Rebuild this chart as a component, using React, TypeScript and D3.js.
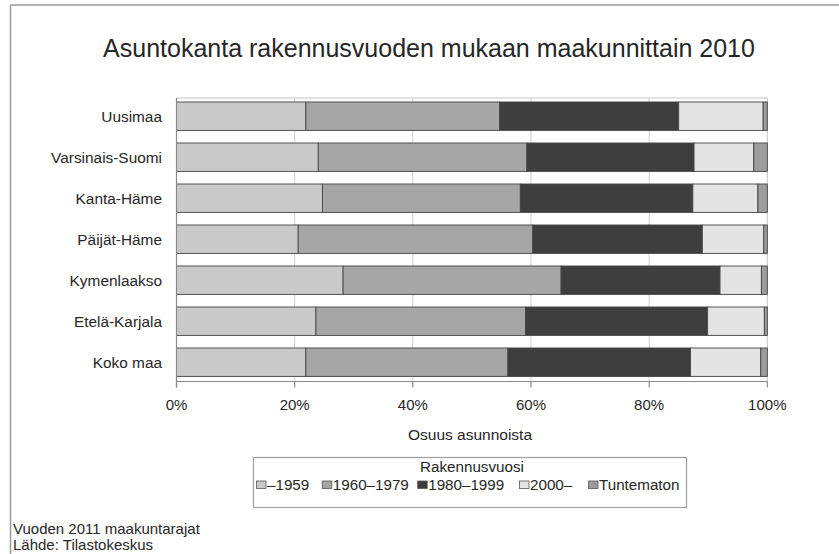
import React, { useEffect } from "react";
import * as d3 from "d3";

const categories = ["Uusimaa", "Varsinais-Suomi", "Kanta-Häme", "Päijät-Häme", "Kymenlaakso", "Etelä-Karjala", "Koko maa"];
const seriesNames = ["–1959", "1960–1979", "1980–1999", "2000–", "Tuntematon"];
const s1959 = [21.9, 24.0, 24.7, 20.6, 28.2, 23.6, 21.9];
const s1960_1979 = [32.8, 35.3, 33.5, 39.7, 36.9, 35.5, 34.2];
const s1980_1999 = [30.3, 28.3, 29.2, 28.7, 26.9, 30.8, 30.9];
const s2000 = [14.3, 10.1, 11.0, 10.4, 7.0, 9.6, 11.9];
const sUnknown = [0.7, 2.3, 1.6, 0.6, 1.0, 0.5, 1.1];
const xTicks = [0, 20, 40, 60, 80, 100];
const seriesColors = ["#c9c9c9", "#a6a6a6", "#3e3e3e", "#e4e4e4", "#9c9c9c"];

const seriesValues = [s1959, s1960_1979, s1980_1999, s2000, sUnknown];

const FONT = "'Liberation Sans', Arial, Helvetica, sans-serif";
const TXT = "#262626";

export default function App() {
  useEffect(() => {
    document.body.style.margin = "0";
  }, []);

  const W = 839;
  const H = 554;
  const x0 = 176.5;
  const x1 = 767.3;
  const yTop = 95.7;
  const yBot = 382.7;
  const axisY = 381.5;

  const x = d3.scaleLinear().domain([0, 100]).range([x0, x1]);
  const y = d3
    .scaleBand<string>()
    .domain(categories)
    .range([yTop, yBot])
    .paddingInner(0.307)
    .paddingOuter(0.1535);

  const rows = categories.map((c, i) => {
    const obj: any = { cat: c };
    seriesNames.forEach((s, k) => (obj[s] = seriesValues[k][i]));
    return obj;
  });
  const stacked = d3.stack<any>().keys(seriesNames)(rows);

  const legendX = [256.5, 322.3, 417.7, 519.5, 588.5];

  return (
    <svg width={W} height={H} style={{ display: "block", background: "#fff" }} fontFamily={FONT}>
      <rect x={0} y={0} width={W} height={H} fill="#fff" />
      {/* outer frame */}
      <line x1={10.5} y1={5} x2={W} y2={5} stroke="#9a9a9a" strokeWidth={1.5} />
      <line x1={10.5} y1={5} x2={10.5} y2={H} stroke="#9a9a9a" strokeWidth={1.5} />

      <text x={429} y={57} textAnchor="middle" fontSize={25} fill={TXT}>
        Asuntokanta rakennusvuoden mukaan maakunnittain 2010
      </text>

      {/* plot area box */}
      <line x1={x0} y1={98} x2={x1} y2={98} stroke="#c4c4c4" strokeWidth={1} />
      <line x1={x1} y1={98} x2={x1} y2={axisY} stroke="#c4c4c4" strokeWidth={1} />

      {/* gridlines */}
      {xTicks.slice(1, -1).map((t) => (
        <line key={"g" + t} x1={x(t)} x2={x(t)} y1={98} y2={axisY} stroke="#cfcfcf" strokeWidth={1} />
      ))}

      {/* bars */}
      {stacked.map((layer, k) => (
        <g key={layer.key} fill={seriesColors[k]}>
          {layer.map((d, i) => (
            <rect
              key={i}
              x={x(d[0])}
              y={y(categories[i])}
              width={x(d[1]) - x(d[0])}
              height={y.bandwidth()}
              stroke="#454545"
              strokeWidth={0.9}
            />
          ))}
        </g>
      ))}

      {/* axes */}
      <line x1={x0} y1={98} x2={x0} y2={axisY + 6} stroke="#8a8a8a" strokeWidth={1.2} />
      <line x1={x0} y1={axisY} x2={x1} y2={axisY} stroke="#8a8a8a" strokeWidth={1.2} />
      {xTicks.map((t) => (
        <g key={"t" + t}>
          <line x1={x(t)} x2={x(t)} y1={axisY} y2={axisY + 6} stroke="#8a8a8a" strokeWidth={1.2} />
          <text x={x(t)} y={410} textAnchor="middle" fontSize={15} fill={TXT}>
            {t + "%"}
          </text>
        </g>
      ))}

      {categories.map((c) => (
        <text key={c} x={162} y={(y(c) as number) + y.bandwidth() / 2} dy="0.36em" textAnchor="end" fontSize={15.4} fill={TXT}>
          {c}
        </text>
      ))}

      <text x={470} y={440} textAnchor="middle" fontSize={15.5} fill={TXT}>
        Osuus asunnoista
      </text>

      {/* legend */}
      <rect x={253.5} y={457.5} width={433} height={50} fill="none" stroke="#a0a0a0" strokeWidth={1.2} />
      <text x={472} y={472} textAnchor="middle" fontSize={15.2} fill={TXT}>
        Rakennusvuosi
      </text>
      {seriesNames.map((s, k) => (
        <g key={"l" + s}>
          <rect x={legendX[k]} y={481} width={9.5} height={7.5} fill={seriesColors[k]} stroke="#555" strokeWidth={0.8} />
          <text x={legendX[k] + 10.5} y={490} fontSize={15.2} fill={TXT}>
            {s}
          </text>
        </g>
      ))}

      <text x={13} y={534} fontSize={15} fill={TXT}>
        Vuoden 2011 maakuntarajat
      </text>
      <text x={13} y={550} fontSize={15} fill={TXT}>
        Lähde: Tilastokeskus
      </text>
    </svg>
  );
}
